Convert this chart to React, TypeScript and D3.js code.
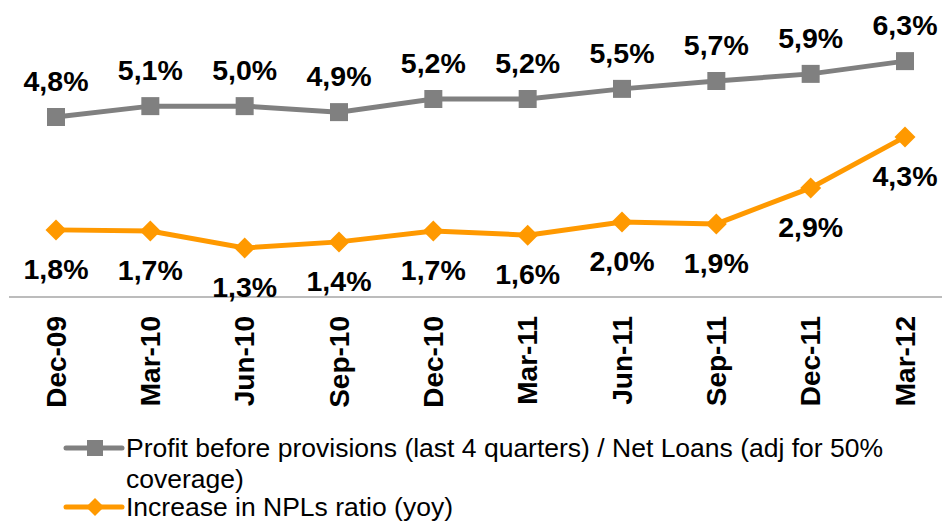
import React from "react";
import * as d3 from "d3";

const categories = ["Dec-09", "Mar-10", "Jun-10", "Sep-10", "Dec-10", "Mar-11", "Jun-11", "Sep-11", "Dec-11", "Mar-12"];
const profitValues = [4.80, 5.09, 5.09, 4.93, 5.28, 5.28, 5.55, 5.76, 5.95, 6.29];
const profitLabels = ["4,8%", "5,1%", "5,0%", "4,9%", "5,2%", "5,2%", "5,5%", "5,7%", "5,9%", "6,3%"];
const nplValues = [1.79, 1.76, 1.31, 1.47, 1.76, 1.65, 2.0, 1.95, 2.91, 4.27];
const nplLabels = ["1,8%", "1,7%", "1,3%", "1,4%", "1,7%", "1,6%", "2,0%", "1,9%", "2,9%", "4,3%"];
const legendProfit = ["Profit before provisions (last 4 quarters) / Net Loans (adj for 50%", "coverage)"];
const legendNpl = "Increase in NPLs ratio (yoy)";

const W = 942;
const H = 522;
const GRAY = "#808080";
const ORANGE = "#FF9900";
const FONT = "'Liberation Sans', Arial, sans-serif";

export default function App() {
  const x = d3.scalePoint<string>().domain(categories).range([56, 905]);
  const y = d3.scaleLinear().domain([0, 1]).range([297, 259.5]);
  const line = d3.line<number>().x((_, i) => x(categories[i]) as number).y((d) => y(d));
  const diamond = (cx: number, cy: number, r: number) =>
    `M${cx},${cy - r}L${cx + r},${cy}L${cx},${cy + r}L${cx - r},${cy}Z`;

  return (
    <svg width={W} height={H} style={{ position: "absolute", left: 0, top: 0, background: "#fff" }} fontFamily={FONT}>
      <line x1={9} x2={942} y1={y(0)} y2={y(0)} stroke="#a6a6a6" strokeWidth={1.5} />
      {categories.map((c) => (
        <text
          key={c}
          transform={`translate(${x(c)},316) rotate(-90)`}
          textAnchor="end"
          dy="0.35em"
          fontSize={28}
          fontWeight="bold"
          fill="#000"
        >
          {c}
        </text>
      ))}
      <path d={line(profitValues) || ""} fill="none" stroke={GRAY} strokeWidth={5} />
      {profitValues.map((v, i) => (
        <rect key={i} x={(x(categories[i]) as number) - 9} y={y(v) - 9} width={18} height={18} fill={GRAY} />
      ))}
      <path d={line(nplValues) || ""} fill="none" stroke={ORANGE} strokeWidth={5} />
      {nplValues.map((v, i) => (
        <path key={i} d={diamond(x(categories[i]) as number, y(v), 10.5)} fill={ORANGE} />
      ))}
      {profitValues.map((v, i) => (
        <text key={i} x={x(categories[i])} y={y(v) - 26} textAnchor="middle" fontSize={28.5} fontWeight="bold">
          {profitLabels[i]}
        </text>
      ))}
      {nplValues.map((v, i) => (
        <text key={i} x={x(categories[i])} y={y(v) + 49} textAnchor="middle" fontSize={28.5} fontWeight="bold">
          {nplLabels[i]}
        </text>
      ))}
      <g>
        <line x1={66} x2={122} y1={448} y2={448} stroke={GRAY} strokeWidth={5} strokeLinecap="round" />
        <rect x={87} y={440} width={16} height={16} fill={GRAY} />
        <text x={126} y={457} fontSize={26.5}>
          {legendProfit[0]}
        </text>
        <text x={126} y={488} fontSize={26.5}>
          {legendProfit[1]}
        </text>
        <line x1={66} x2={122} y1={507} y2={507} stroke={ORANGE} strokeWidth={5} strokeLinecap="round" />
        <path d={diamond(95, 507, 9)} fill={ORANGE} />
        <text x={126} y={516} fontSize={26.5}>
          {legendNpl}
        </text>
      </g>
    </svg>
  );
}
